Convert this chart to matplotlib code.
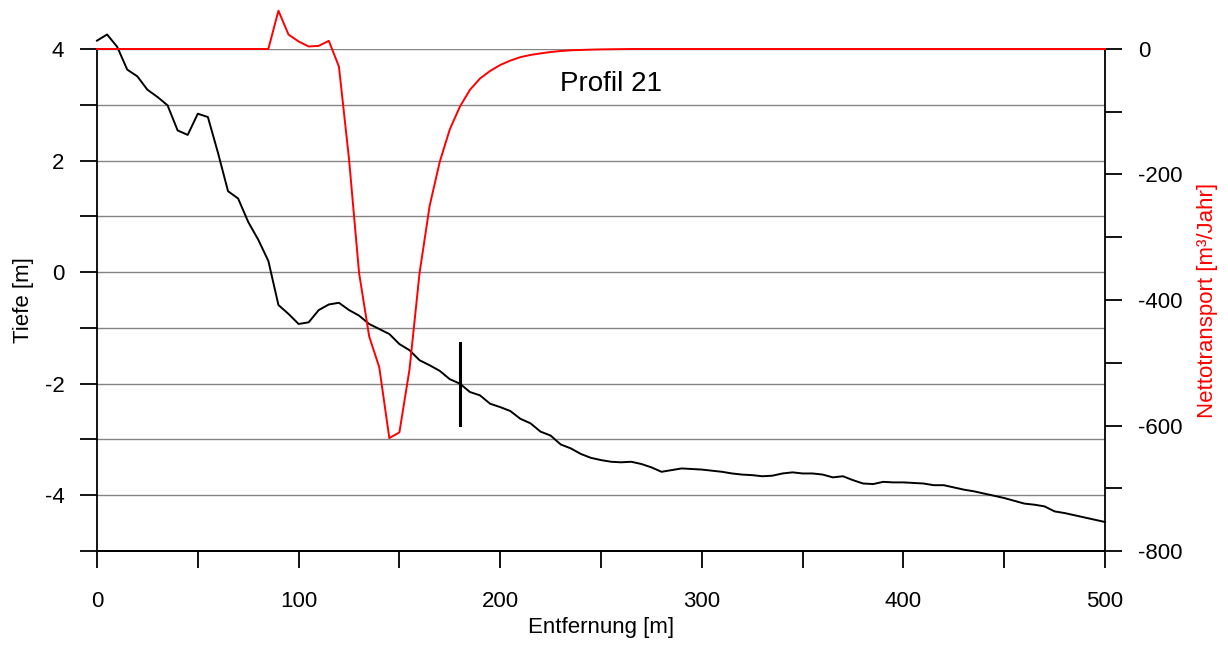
import matplotlib
matplotlib.use("Agg")
import matplotlib.pyplot as plt
from matplotlib.ticker import MultipleLocator

plt.rcParams['font.family'] = ['Liberation Sans', 'DejaVu Sans']

# distance along profile [m]
dist = list(range(0, 505, 5))

# depth profile [m]
depth = [4.15, 4.26, 4.04, 3.63, 3.51, 3.27, 3.14, 2.99, 2.54, 2.46,
         2.84, 2.78, 2.14, 1.45, 1.32, 0.90, 0.58, 0.20, -0.59, -0.75,
         -0.93, -0.90, -0.68, -0.58, -0.55, -0.68, -0.78, -0.93, -1.02, -1.11,
         -1.29, -1.40, -1.58, -1.67, -1.77, -1.92, -2.00, -2.15, -2.21, -2.36,
         -2.42, -2.49, -2.63, -2.71, -2.86, -2.93, -3.09, -3.16, -3.26, -3.33,
         -3.37, -3.40, -3.41, -3.40, -3.44, -3.50, -3.58, -3.55, -3.52, -3.53,
         -3.54, -3.56, -3.58, -3.61, -3.63, -3.64, -3.66, -3.65, -3.61, -3.59,
         -3.61, -3.61, -3.63, -3.68, -3.66, -3.73, -3.79, -3.80, -3.76, -3.77,
         -3.77, -3.78, -3.79, -3.82, -3.82, -3.86, -3.90, -3.93, -3.97, -4.01,
         -4.05, -4.10, -4.15, -4.17, -4.20, -4.29, -4.32, -4.36, -4.40, -4.44,
         -4.48]

# net transport [m3/Jahr]
transport = [0, 0, 0, 0, 0, 0, 0, 0, 0, 0,
             0, 0, 0, 0, 0, 0, 0, 0, 61, 23,
             12, 4, 5, 13, -28, -175, -357, -458, -507, -620,
             -611, -511, -357, -250, -180, -128, -92, -65, -47, -35,
             -25.5, -18.5, -13, -9.5, -7, -4.8, -3.2, -2.1, -1.5, -1.0,
             -0.6, -0.4, -0.2, 0, 0, 0, 0, 0, 0, 0,
             0, 0, 0, 0, 0, 0, 0, 0, 0, 0,
             0, 0, 0, 0, 0, 0, 0, 0, 0, 0,
             0, 0, 0, 0, 0, 0, 0, 0, 0, 0,
             0, 0, 0, 0, 0, 0, 0, 0, 0, 0,
             0]

marker_x = 180
marker_y = [-1.27, -2.75]
title_text = "Profil 21"

W, H = 1228, 646
fig = plt.figure(figsize=(W / 100, H / 100), dpi=100)
ax = fig.add_axes([97 / W, (H - 551) / H, (1105 - 97) / W, (551 - 49) / H])
ax2 = ax.twinx()

ax.set_xlim(0, 500)
ax.set_ylim(-5, 4)
ax2.set_ylim(-800, 0)

# grid
for v in range(-4, 5):
    ax.axhline(v, color='#858585', lw=1.0, zorder=0)

ax.plot(dist, depth, color='black', lw=1.4, clip_on=False, zorder=3)
ax.plot([marker_x, marker_x], marker_y, color='black', lw=2.2, zorder=4)
ax2.plot(dist, transport, color='red', lw=1.4, clip_on=False, zorder=3)

ax.text(255, 3.38, title_text, fontsize=20, ha='center', va='center')

for a in (ax, ax2):
    a.spines['top'].set_visible(False)
    for s in a.spines.values():
        s.set_linewidth(1.3)
ax2.spines['left'].set_visible(False)
ax.spines['right'].set_visible(False)

ax.xaxis.set_major_locator(MultipleLocator(100))
ax.xaxis.set_minor_locator(MultipleLocator(50))
ax.yaxis.set_major_locator(MultipleLocator(2))
ax.yaxis.set_minor_locator(MultipleLocator(1))
ax2.yaxis.set_major_locator(MultipleLocator(200))
ax2.yaxis.set_minor_locator(MultipleLocator(100))

ax.tick_params(axis='x', which='both', direction='out', length=12.5, width=1.3,
               labelsize=16, pad=16)
ax.tick_params(axis='y', which='both', direction='out', length=12.5, width=1.3,
               labelsize=16, pad=11)
ax2.tick_params(axis='y', which='both', direction='out', length=12.5, width=1.3,
                labelsize=16, pad=11)
ax.set_yticks([-4, -2, 0, 2, 4])
ax.set_yticklabels(['-4', '-2', '0', '2', '4'])
ax2.set_yticks([-800, -600, -400, -200, 0])
ax2.set_yticklabels(['-800', '-600', '-400', '-200', '0'])

fig.text(23 / W, 1 - 300 / H, 'Tiefe [m]', rotation=90, ha='center', va='center', fontsize=16)
fig.text(601 / W, 1 - 628 / H, 'Entfernung [m]', ha='center', va='center', fontsize=16)
fig.text(1208 / W, 1 - 300 / H, 'Nettotransport [m³/Jahr]', rotation=90, ha='center',
         va='center', fontsize=16, color='red')

fig.savefig('out.png', dpi=100)
